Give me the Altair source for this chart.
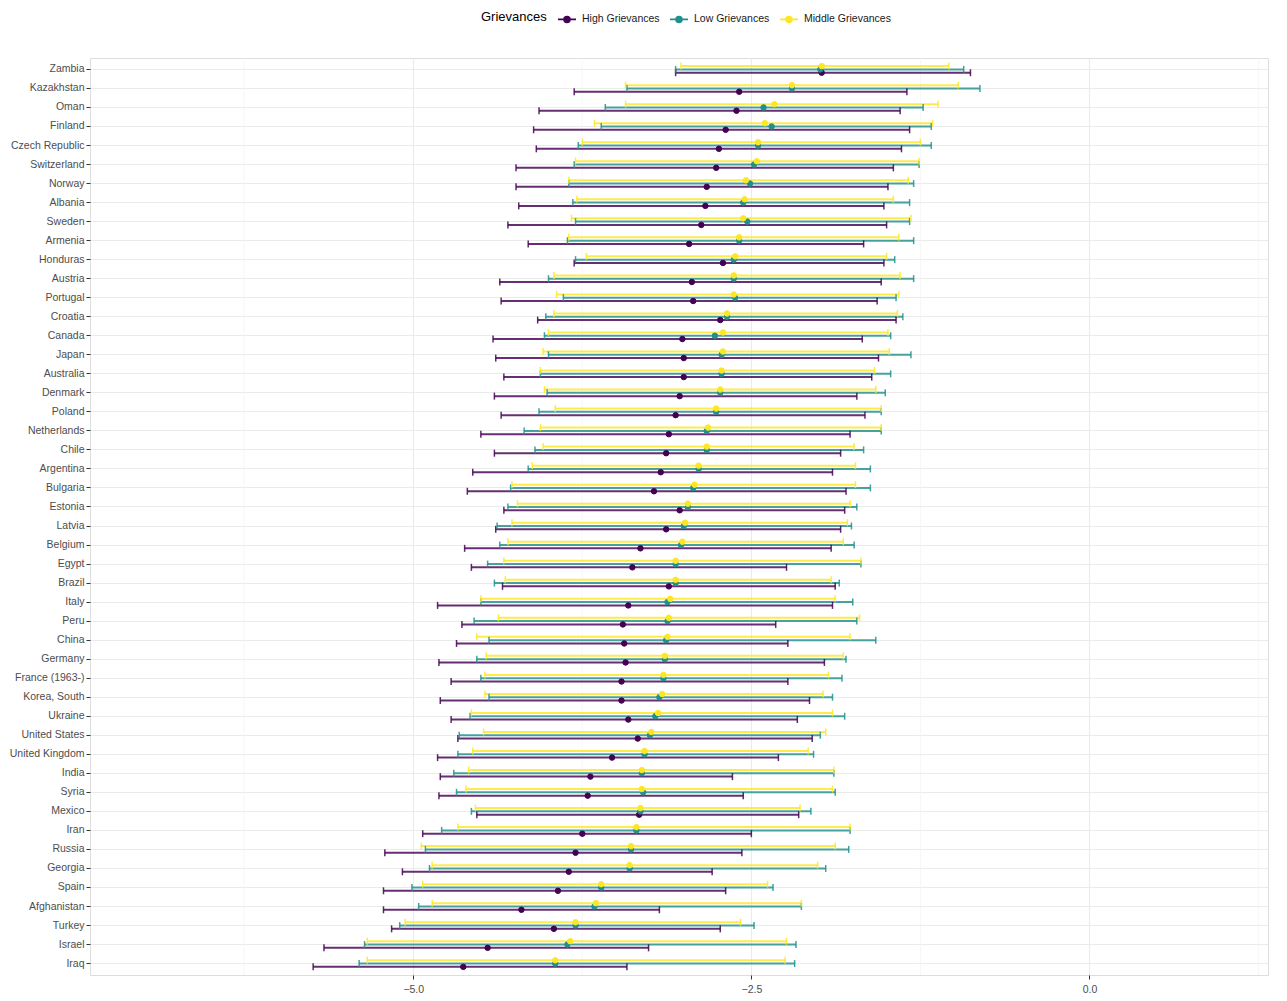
import altair as alt
import pandas as pd

countries = ["Zambia", "Kazakhstan", "Oman", "Finland", "Czech Republic", "Switzerland",
             "Norway", "Albania", "Sweden", "Armenia", "Honduras", "Austria", "Portugal",
             "Croatia", "Canada", "Japan", "Australia", "Denmark", "Poland", "Netherlands",
             "Chile", "Argentina", "Bulgaria", "Estonia", "Latvia", "Belgium", "Egypt",
             "Brazil", "Italy", "Peru", "China", "Germany", "France (1963-)", "Korea, South",
             "Ukraine", "United States", "United Kingdom", "India", "Syria", "Mexico", "Iran",
             "Russia", "Georgia", "Spain", "Afghanistan", "Turkey", "Israel", "Iraq"]

groups = ["High Grievances", "Low Grievances", "Middle Grievances"]
colors = ["#440154", "#21908C", "#FDE725"]

mid_est = [-1.98, -2.20, -2.33, -2.40, -2.45, -2.46, -2.54, -2.55, -2.56, -2.59, -2.62, -2.63,
           -2.63, -2.68, -2.71, -2.71, -2.72, -2.73, -2.76, -2.82, -2.83, -2.89, -2.92, -2.97,
           -2.99, -3.01, -3.06, -3.06, -3.10, -3.11, -3.12, -3.14, -3.15, -3.16, -3.19, -3.24,
           -3.29, -3.31, -3.31, -3.32, -3.35, -3.39, -3.40, -3.61, -3.65, -3.80, -3.84, -3.95]
mid_lo = [-3.02, -3.43, -3.43, -3.66, -3.75, -3.80, -3.85, -3.79, -3.83, -3.85, -3.72, -3.96,
          -3.94, -3.96, -4.00, -4.04, -4.06, -4.03, -3.95, -4.06, -4.04, -4.12, -4.27, -4.23,
          -4.27, -4.30, -4.33, -4.32, -4.50, -4.37, -4.53, -4.46, -4.47, -4.47, -4.57, -4.48,
          -4.56, -4.59, -4.61, -4.54, -4.67, -4.94, -4.86, -4.93, -4.86, -5.06, -5.34, -5.34]
mid_hi = [-1.04, -0.97, -1.12, -1.16, -1.25, -1.26, -1.34, -1.45, -1.32, -1.41, -1.50, -1.40,
          -1.41, -1.42, -1.49, -1.48, -1.59, -1.58, -1.54, -1.54, -1.74, -1.73, -1.73, -1.77,
          -1.79, -1.82, -1.69, -1.91, -1.88, -1.70, -1.77, -1.82, -1.93, -1.97, -1.90, -1.95,
          -2.08, -1.89, -1.90, -2.14, -1.77, -1.88, -2.01, -2.38, -2.13, -2.58, -2.24, -2.25]

low_est = [-1.99, -2.20, -2.41, -2.35, -2.45, -2.48, -2.51, -2.56, -2.53, -2.59, -2.63, -2.63,
           -2.62, -2.68, -2.77, -2.72, -2.72, -2.73, -2.76, -2.83, -2.83, -2.89, -2.93, -2.97,
           -3.00, -3.02, -3.06, -3.06, -3.12, -3.12, -3.13, -3.14, -3.15, -3.18, -3.21, -3.25,
           -3.29, -3.31, -3.30, -3.32, -3.35, -3.39, -3.40, -3.61, -3.66, -3.80, -3.86, -3.95]
low_lo = [-3.06, -3.42, -3.58, -3.61, -3.78, -3.81, -3.85, -3.82, -3.80, -3.86, -3.80, -4.00,
          -3.89, -4.02, -4.03, -4.00, -4.06, -4.01, -4.07, -4.18, -4.10, -4.15, -4.28, -4.30,
          -4.38, -4.36, -4.45, -4.40, -4.50, -4.55, -4.44, -4.53, -4.50, -4.44, -4.58, -4.66,
          -4.67, -4.70, -4.68, -4.57, -4.79, -4.91, -4.88, -5.01, -4.96, -5.10, -5.36, -5.40]
low_hi = [-0.93, -0.81, -1.23, -1.17, -1.17, -1.26, -1.30, -1.33, -1.33, -1.30, -1.44, -1.30,
          -1.43, -1.38, -1.47, -1.32, -1.47, -1.51, -1.54, -1.54, -1.67, -1.62, -1.62, -1.72,
          -1.76, -1.74, -1.69, -1.85, -1.75, -1.72, -1.58, -1.80, -1.83, -1.90, -1.81, -1.99,
          -2.04, -1.89, -1.88, -2.06, -1.77, -1.78, -1.95, -2.34, -2.13, -2.48, -2.17, -2.18]

high_est = [-1.98, -2.59, -2.61, -2.69, -2.74, -2.76, -2.83, -2.84, -2.87, -2.96, -2.71, -2.94,
            -2.93, -2.73, -3.01, -3.00, -3.00, -3.03, -3.06, -3.11, -3.13, -3.17, -3.22, -3.03,
            -3.13, -3.32, -3.38, -3.11, -3.41, -3.45, -3.44, -3.43, -3.46, -3.46, -3.41, -3.34,
            -3.53, -3.69, -3.71, -3.33, -3.75, -3.80, -3.85, -3.93, -4.20, -3.96, -4.45, -4.63]
high_lo = [-3.06, -3.81, -4.07, -4.11, -4.09, -4.24, -4.24, -4.22, -4.30, -4.15, -3.81, -4.36,
           -4.35, -4.08, -4.41, -4.39, -4.33, -4.40, -4.35, -4.50, -4.40, -4.56, -4.60, -4.33,
           -4.39, -4.62, -4.57, -4.34, -4.82, -4.64, -4.68, -4.81, -4.72, -4.80, -4.72, -4.67,
           -4.82, -4.80, -4.81, -4.53, -4.93, -5.21, -5.08, -5.22, -5.22, -5.16, -5.66, -5.74]
high_hi = [-0.88, -1.35, -1.40, -1.33, -1.39, -1.45, -1.49, -1.52, -1.50, -1.67, -1.52, -1.54,
           -1.57, -1.43, -1.68, -1.56, -1.61, -1.72, -1.66, -1.77, -1.84, -1.90, -1.80, -1.81,
           -1.84, -1.91, -2.24, -1.88, -1.90, -2.32, -2.23, -1.96, -2.23, -2.07, -2.16, -2.05,
           -2.30, -2.64, -2.56, -2.15, -2.50, -2.57, -2.79, -2.69, -3.18, -2.73, -3.26, -3.42]

x_ticks = [-5.0, -2.5, 0.0]
minor_breaks = [-6.25, -3.75, -1.25, 1.25]

rows = []
for g, est, lo, hi in [("High Grievances", high_est, high_lo, high_hi),
                       ("Low Grievances", low_est, low_lo, low_hi),
                       ("Middle Grievances", mid_est, mid_lo, mid_hi)]:
    for c, e, l, h in zip(countries, est, lo, hi):
        rows.append({"country": c, "group": g, "est": e, "lo": l, "hi": h})
df = pd.DataFrame(rows)
minor_df = pd.DataFrame({"m": minor_breaks})

FONT = "Liberation Sans, Arial, Helvetica, sans-serif"

xscale = alt.Scale(domain=[-7.39, 1.32], nice=False, zero=False)
xaxis = alt.Axis(title=None, values=x_ticks, format=".1f", grid=True, gridColor="#ebebeb",
                 gridWidth=1.1, domain=False, tickColor="#333333", tickSize=4,
                 labelColor="#4d4d4d", labelFontSize=10.5, labelPadding=5, labelFont=FONT)

y = alt.Y("country:N", sort=countries,
          scale=alt.Scale(domain=countries, paddingInner=0, paddingOuter=0.1),
          axis=alt.Axis(title=None, bandPosition=0.5, grid=True, gridColor="#ebebeb",
                        gridWidth=1.2, domain=False, tickColor="#333333", tickSize=4,
                        labelColor="#4d4d4d", labelFontSize=10.5, labelPadding=2,
                        labelFont=FONT))
yoff = alt.YOffset("group:N",
                   scale=alt.Scale(domain=["Middle Grievances", "Low Grievances", "High Grievances"],
                                   range=[4.55, 14.45], paddingInner=0, paddingOuter=0))

legend = alt.Legend(
    title="Grievances", orient="none", legendX=391, legendY=-49, direction="horizontal",
    titleOrient="left", titleFontSize=13, titleFontWeight="normal", titleColor="#000000",
    titleFont=FONT, titlePadding=10, labelFont=FONT, labelFontSize=10.5, labelColor="#1a1a1a",
    labelOffset=5, columnPadding=6,
    symbolType="M-1,0H1M-0.33,0A0.33,0.33,0,1,1,0.33,0A0.33,0.33,0,1,1,-0.33,0",
    symbolSize=324, symbolStrokeWidth=1.6, symbolOpacity=1)
cscale = alt.Scale(domain=groups, range=colors)

minor = alt.Chart(minor_df).mark_rule(color="#f3f3f3", strokeWidth=0.7).encode(
    x=alt.X("m:Q", scale=xscale, axis=xaxis))

base = alt.Chart(df)
bars = base.mark_rule(strokeWidth=2, opacity=0.82).encode(
    x=alt.X("lo:Q", scale=xscale, axis=xaxis), x2="hi:Q", y=y, yOffset=yoff,
    stroke=alt.Stroke("group:N", scale=cscale, legend=legend))
cap_lo = base.mark_tick(thickness=1.5, size=7, opacity=0.85).encode(
    x=alt.X("lo:Q", scale=xscale, axis=xaxis), y=y, yOffset=yoff,
    fill=alt.Fill("group:N", scale=cscale, legend=legend))
cap_hi = base.mark_tick(thickness=1.5, size=7, opacity=0.85).encode(
    x=alt.X("hi:Q", scale=xscale, axis=xaxis), y=y, yOffset=yoff,
    fill=alt.Fill("group:N", scale=cscale, legend=legend))
pts = base.mark_point(filled=True, size=30, opacity=1, strokeWidth=1).encode(
    x=alt.X("est:Q", scale=xscale, axis=xaxis), y=y, yOffset=yoff,
    fill=alt.Fill("group:N", scale=cscale, legend=legend),
    stroke=alt.Stroke("group:N", scale=cscale, legend=legend))

chart = alt.layer(minor, bars, cap_lo, cap_hi, pts).properties(
    width=1178, height=917,
    autosize=alt.AutoSizeParams(type="none"),
    padding={"left": 82, "top": 50, "right": 10, "bottom": 18},
).configure_view(stroke="#7a7a7a", strokeWidth=1).configure(background="white", font=FONT)

chart.save("out.html", embed_options={"renderer": "svg", "actions": False})
